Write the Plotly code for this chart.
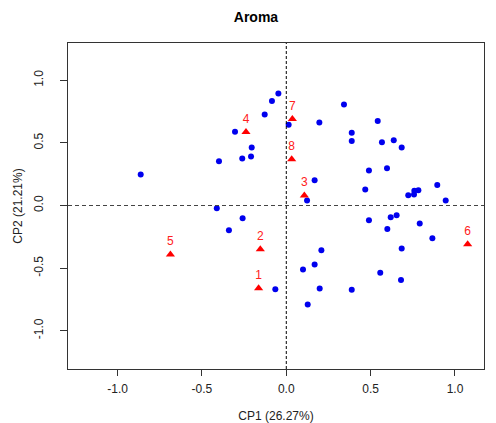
import plotly.graph_objects as go

# Blue points (variables / samples)
pts_x = [-0.863, -0.399, -0.304, -0.261, -0.209, -0.205, -0.128, -0.085, -0.047, -0.412,
         0.014, 0.196, 0.342, 0.388, 0.388, 0.542, 0.567, 0.637, 0.684, 0.490,
         0.597, 0.168, 0.468, 0.123, 0.723, 0.757, 0.759, 0.783, 0.895, 0.945,
         0.490, 0.619, 0.654, 0.599, 0.791, 0.866, 0.684, 0.208, 0.168, 0.099,
         0.557, 0.680, 0.198, 0.388, 0.127, -0.065, -0.259, -0.340]
pts_y = [0.247, 0.354, 0.590, 0.375, 0.391, 0.463, 0.726, 0.835, 0.894, -0.021,
         0.646, 0.662, 0.806, 0.582, 0.516, 0.675, 0.505, 0.521, 0.463, 0.279,
         0.298, 0.202, 0.128, 0.040, 0.082, 0.088, 0.117, 0.122, 0.164, 0.040,
         -0.117, -0.093, -0.077, -0.187, -0.144, -0.261, -0.343, -0.357, -0.471, -0.511,
         -0.538, -0.596, -0.663, -0.673, -0.790, -0.668, -0.101, -0.197]

# Red triangles (labelled)
tri_labels = ["1", "2", "3", "4", "5", "6", "7", "8"]
tri_x = [-0.164, -0.154, 0.107, -0.239, -0.687, 1.075, 0.036, 0.032]
tri_y = [-0.660, -0.349, 0.080, 0.588, -0.391, -0.309, 0.691, 0.369]

tick_vals = [-1.0, -0.5, 0.0, 0.5, 1.0]
tick_text = ["-1.0", "-0.5", "0.0", "0.5", "1.0"]

fig = go.Figure()
fig.add_trace(go.Scatter(x=pts_x, y=pts_y, mode="markers",
                         marker=dict(symbol="circle", size=6, color="#0000ee"),
                         showlegend=False, hoverinfo="x+y"))
fig.add_trace(go.Scatter(x=tri_x, y=tri_y, mode="markers+text", text=tri_labels,
                         textposition="top center",
                         textfont=dict(color="#ff2020", size=12, family="Liberation Sans, Arial, sans-serif"),
                         marker=dict(symbol="triangle-up", size=8, color="#ff0000"),
                         showlegend=False, hoverinfo="x+y+text"))

fig.add_shape(type="line", x0=0, x1=0, y0=0, y1=1, xref="x", yref="paper",
              line=dict(color="black", width=1, dash="3px,2px"))
fig.add_shape(type="line", x0=0, x1=1, y0=0, y1=0, xref="paper", yref="y",
              line=dict(color="#444444", width=1, dash="4px,3px"))

axis_font = dict(family="Liberation Sans, Arial, sans-serif", size=12, color="#222222")
fig.update_layout(
    width=496, height=423,
    margin=dict(l=60, r=20, t=35, b=62, autoexpand=False),
    paper_bgcolor="white", plot_bgcolor="white",
    title=dict(text="<b>Aroma</b>", x=0.5, xanchor="center", y=0.979, yanchor="middle",
               automargin=False,
               font=dict(family="Liberation Sans, Arial, sans-serif", size=14, color="black")),
    xaxis=dict(range=[-1.294, 1.172], tickvals=tick_vals, ticktext=tick_text,
               showgrid=False, zeroline=False, showline=True, linecolor="#333333", linewidth=1,
               mirror=True, ticks="outside", ticklen=6, tickcolor="#333333",
               tickfont=axis_font, automargin=False, ticklabelstandoff=3,
               title=dict(text="CP1 (26.27%)", font=axis_font, standoff=16)),
    yaxis=dict(range=[-1.306, 1.298], tickvals=tick_vals, ticktext=tick_text,
               showgrid=False, zeroline=False, showline=True, linecolor="#333333", linewidth=1,
               mirror=True, ticks="outside", ticklen=7, tickcolor="#333333",
               tickangle=-90, tickfont=axis_font, automargin=False, ticklabelstandoff=12,
               title=dict(text="CP2 (21.21%)", font=axis_font, standoff=7)),
    font=axis_font,
)

fig.write_html("out.html")
